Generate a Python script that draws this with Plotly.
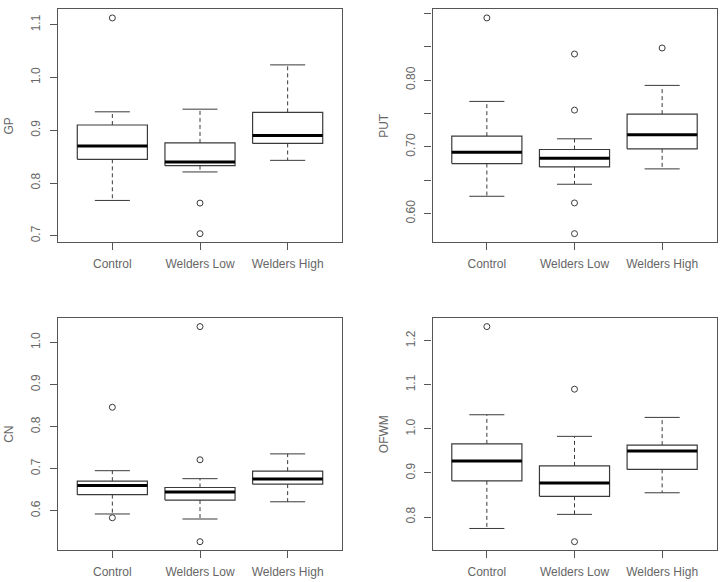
import plotly.graph_objects as go

# ---- data ----
groups = ["Control", "Welders Low", "Welders High"]

gp_lower   = [0.767, 0.821, 0.843]
gp_q1      = [0.845, 0.833, 0.875]
gp_median  = [0.870, 0.840, 0.890]
gp_q3      = [0.910, 0.876, 0.934]
gp_upper   = [0.935, 0.940, 1.024]
gp_out     = [[1.113], [0.762, 0.704], []]

put_lower  = [0.626, 0.644, 0.667]
put_q1     = [0.675, 0.670, 0.697]
put_median = [0.692, 0.683, 0.718]
put_q3     = [0.716, 0.696, 0.749]
put_upper  = [0.768, 0.712, 0.792]
put_out    = [[0.893], [0.839, 0.755, 0.616, 0.570], [0.848]]

cn_lower   = [0.592, 0.580, 0.621]
cn_q1      = [0.638, 0.625, 0.663]
cn_median  = [0.660, 0.644, 0.675]
cn_q3      = [0.670, 0.655, 0.694]
cn_upper   = [0.695, 0.676, 0.735]
cn_out     = [[0.846, 0.583], [1.038, 0.721, 0.526], []]

of_lower   = [0.774, 0.806, 0.855]
of_q1      = [0.882, 0.847, 0.908]
of_median  = [0.927, 0.877, 0.950]
of_q3      = [0.966, 0.916, 0.963]
of_upper   = [1.032, 0.983, 1.026]
of_out     = [[1.232], [1.090, 0.744], []]

panels = [
    ("GP",   gp_lower, gp_q1, gp_median, gp_q3, gp_upper, gp_out,
     [0.7, 0.8, 0.9, 1.0, 1.1], ["0.7", "0.8", "0.9", "1.0", "1.1"]),
    ("PUT",  put_lower, put_q1, put_median, put_q3, put_upper, put_out,
     [0.60, 0.65, 0.70, 0.75, 0.80, 0.85, 0.90], ["0.60", "", "0.70", "", "0.80", "", "0.90"]),
    ("CN",   cn_lower, cn_q1, cn_median, cn_q3, cn_upper, cn_out,
     [0.6, 0.7, 0.8, 0.9, 1.0], ["0.6", "0.7", "0.8", "0.9", "1.0"]),
    ("OFWM", of_lower, of_q1, of_median, of_q3, of_upper, of_out,
     [0.8, 0.9, 1.0, 1.1, 1.2], ["0.8", "0.9", "1.0", "1.1", "1.2"]),
]

# ---- layout geometry (pixels in a 720x582 canvas) ----
W, H = 720, 582
xdoms = [(58, 342), (432.5, 716.5)]
ydoms = [(9.3, 242.3), (318, 550.3)]

FRAME = "#555555"
TEXT = "#666666"
BOXC = "#3a3a3a"
BW = 0.4   # half box width
CW = 0.2   # half cap width

fig = go.Figure()
layout = dict(width=W, height=H, margin=dict(l=0, r=0, t=0, b=0, autoexpand=False),
              paper_bgcolor="white", plot_bgcolor="white", showlegend=False,
              font=dict(family="Liberation Sans, Arial, sans-serif", size=12, color=TEXT))

for k, (name, lo, q1, med, q3, up, outs, tv, tt) in enumerate(panels):
    r, c = divmod(k, 2)
    xa = "x" if k == 0 else f"x{k+1}"
    ya = "y" if k == 0 else f"y{k+1}"
    xkey = "xaxis" if k == 0 else f"xaxis{k+1}"
    ykey = "yaxis" if k == 0 else f"yaxis{k+1}"

    allv = lo + up + [v for o in outs for v in o]
    vmin, vmax = min(allv), max(allv)
    pad = 0.04 * (vmax - vmin)

    for i in range(3):
        xc = i + 1
        # whiskers (dashed)
        fig.add_trace(go.Scatter(x=[xc, xc, None, xc, xc], y=[q3[i], up[i], None, q1[i], lo[i]],
                                 mode="lines", line=dict(color=BOXC, width=1, dash="4px,3px"),
                                 xaxis=xa, yaxis=ya, hoverinfo="skip"))
        # caps
        fig.add_trace(go.Scatter(x=[xc - CW, xc + CW, None, xc - CW, xc + CW],
                                 y=[up[i], up[i], None, lo[i], lo[i]],
                                 mode="lines", line=dict(color=BOXC, width=1),
                                 xaxis=xa, yaxis=ya, hoverinfo="skip"))
        # box
        fig.add_trace(go.Scatter(x=[xc - BW, xc + BW, xc + BW, xc - BW, xc - BW],
                                 y=[q1[i], q1[i], q3[i], q3[i], q1[i]],
                                 mode="lines", line=dict(color=BOXC, width=1.2),
                                 fill="toself", fillcolor="white",
                                 xaxis=xa, yaxis=ya, name=groups[i]))
        # median
        fig.add_trace(go.Scatter(x=[xc - BW, xc + BW], y=[med[i], med[i]],
                                 mode="lines", line=dict(color="black", width=3),
                                 xaxis=xa, yaxis=ya, hoverinfo="skip"))
        # outliers
        if outs[i]:
            fig.add_trace(go.Scatter(x=[xc] * len(outs[i]), y=outs[i], mode="markers",
                                     marker=dict(symbol="circle-open", size=6,
                                                 line=dict(color=BOXC, width=1), color=BOXC),
                                     xaxis=xa, yaxis=ya))

    x0, x1 = xdoms[c]
    y0, y1 = ydoms[r]
    layout[xkey] = dict(domain=[x0 / W, x1 / W], range=[0.38, 3.62],
                        tickvals=[1, 2, 3], ticktext=groups, ticks="outside", ticklen=7,
                        tickcolor=FRAME, showline=True, linecolor=FRAME, linewidth=1.2,
                        mirror=True, showgrid=False, zeroline=False, anchor=ya,
                        ticklabelstandoff=3, tickfont=dict(size=12, color=TEXT))
    layout[ykey] = dict(domain=[1 - y1 / H, 1 - y0 / H], range=[vmin - pad, vmax + pad],
                        tickvals=tv, ticktext=tt, ticks="outside", ticklen=7, tickangle=-90,
                        tickcolor=FRAME, showline=True, linecolor=FRAME, linewidth=1.2,
                        mirror=True, showgrid=False, zeroline=False, anchor=xa,
                        ticklabelstandoff=5, tickfont=dict(size=12, color=TEXT),
                        title=dict(text=name, standoff=12, font=dict(size=12, color=TEXT)))

fig.update_layout(**layout)
fig.write_html("out.html", config={"displayModeBar": False},
               post_script="document.body.style.margin='0';")
